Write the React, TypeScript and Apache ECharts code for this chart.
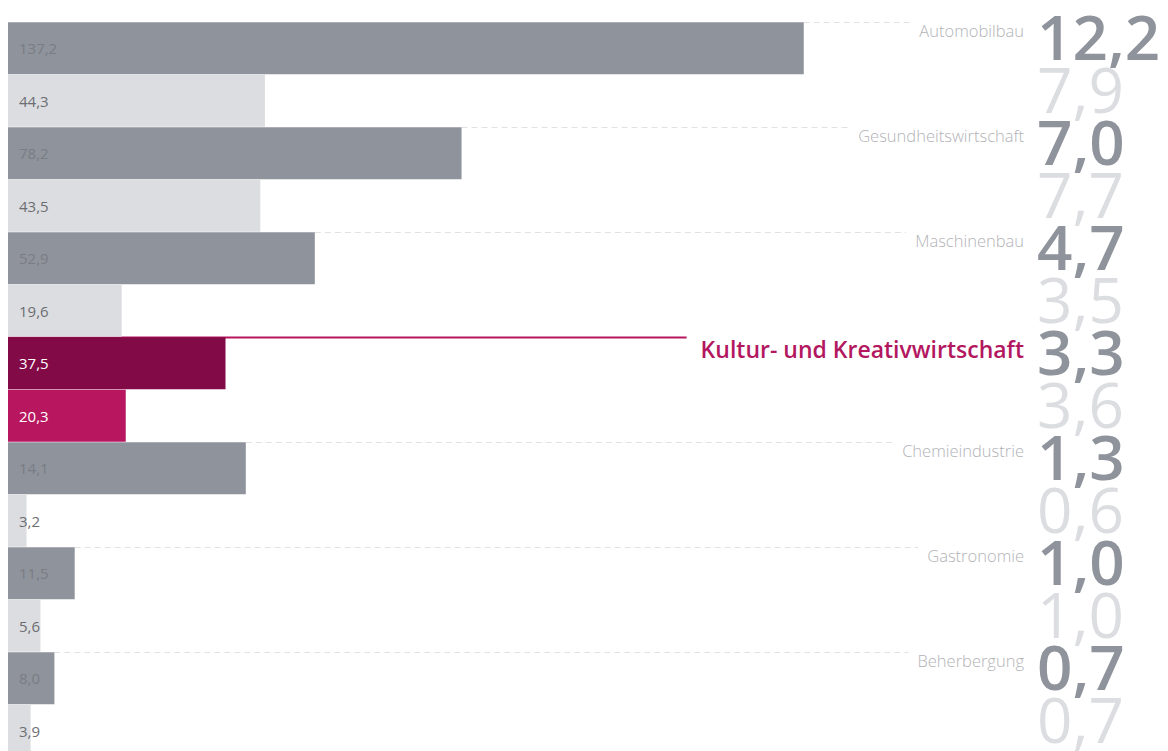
import React, { useEffect, useRef } from "react";
import * as echarts from "echarts";

const sectors = [
  "Automobilbau",
  "Gesundheitswirtschaft",
  "Maschinenbau",
  "Kultur- und Kreativwirtschaft",
  "Chemieindustrie",
  "Gastronomie",
  "Beherbergung",
];
const highlightSector = "Kultur- und Kreativwirtschaft";
// bar lengths (first and second measure of each sector)
const darkValues = [137.2, 78.2, 52.9, 37.5, 41.0, 11.5, 8.0];
const lightValues = [44.3, 43.5, 19.6, 20.3, 3.2, 5.6, 3.9];
// labels printed in the bars
const darkLabels = ["137,2", "78,2", "52,9", "37,5", "14,1", "11,5", "8,0"];
const lightLabels = ["44,3", "43,5", "19,6", "20,3", "3,2", "5,6", "3,9"];
// large figures at the right
const darkShares = ["12,2", "7,0", "4,7", "3,3", "1,3", "1,0", "0,7"];
const lightShares = ["7,9", "7,7", "3,5", "3,6", "0,6", "1,0", "0,7"];

const COLORS = {
  dark: "#8f939b",
  light: "#dcdde0",
  hiDark: "#820a46",
  hiLight: "#b8165f",
  darkLabel: "#7a7d84",
  lightLabel: "#6b6d72",
  catLabel: "#b2b3b7",
  hiText: "#b3175f",
  dash: "#e2e2e4",
};
const FONT = "'Open Sans', 'Noto Sans', sans-serif";

export default function App() {
  const ref = useRef<HTMLDivElement>(null);
  useEffect(() => {
    document.documentElement.style.overflow = "hidden";
    document.body.style.overflow = "hidden";
    const chart = echarts.init(ref.current!, null, { renderer: "svg" });

    const rowNames: string[] = [];
    const data: any[] = [];
    const labelTexts: string[] = [];
    sectors.forEach((s, i) => {
      const hi = s === highlightSector;
      rowNames.push(s + "#1");
      data.push({
        value: darkValues[i],
        itemStyle: { color: hi ? COLORS.hiDark : COLORS.dark },
        label: { color: hi ? "#ffffff" : COLORS.darkLabel },
      });
      labelTexts.push(darkLabels[i]);
      rowNames.push(s + "#2");
      data.push({
        value: lightValues[i],
        itemStyle: { color: hi ? COLORS.hiLight : COLORS.light },
        label: { color: hi ? "#ffffff" : COLORS.lightLabel },
      });
      labelTexts.push(lightLabels[i]);
    });

    chart.setOption({
      animation: false,
      grid: { left: 0, top: 14, width: 870, height: 735 },
      xAxis: {
        type: "value",
        min: 0,
        max: 150,
        show: false,
        splitLine: { show: false },
      },
      yAxis: {
        type: "category",
        data: rowNames,
        inverse: true,
        show: false,
      },
      series: [
        {
          type: "bar",
          data,
          barWidth: 52,
          z: 3,
          label: {
            show: true,
            position: "insideLeft",
            distance: 11,
            fontFamily: FONT,
            fontSize: 15,
            formatter: (p: any) => labelTexts[p.dataIndex],
          },
        },
      ],
    });

    const yc0 = chart.convertToPixel({ yAxisIndex: 0 }, rowNames[0]) as number;
    const yc1 = chart.convertToPixel({ yAxisIndex: 0 }, rowNames[1]) as number;
    const band = yc1 - yc0;
    const rowTop = (k: number) =>
      (chart.convertToPixel({ yAxisIndex: 0 }, rowNames[k]) as number) - band / 2;
    const x0 = chart.convertToPixel({ xAxisIndex: 0 }, 0) as number;
    const labelRight = 1016;
    const numLeft = 1029;

    const graphics: any[] = [];
    sectors.forEach((s, i) => {
      const hi = s === highlightSector;
      const top = rowTop(2 * i);
      const end = chart.convertToPixel({ xAxisIndex: 0 }, darkValues[i]) as number;
      graphics.push({
        type: "line",
        z: 1,
        shape: { x1: hi ? x0 : end, y1: top + 0.5, x2: labelRight, y2: top + 0.5 },
        style: hi
          ? { stroke: COLORS.hiLight, lineWidth: 2 }
          : { stroke: COLORS.dash, lineWidth: 1, lineDash: [6, 4] },
      });
      graphics.push({
        type: "text",
        z: 5,
        x: labelRight,
        y: top + (hi ? 12 : 8),
        style: {
          text: s,
          align: "right",
          verticalAlign: "middle",
          fontFamily: FONT,
          fontSize: hi ? 23 : 16.5,
          fontWeight: hi ? 600 : 300,
          fill: hi ? COLORS.hiText : COLORS.catLabel,
          backgroundColor: "#ffffff",
          padding: hi ? [5, 0, 2, 14] : [5, 0, 2, 9],
        },
      });
      graphics.push({
        type: "text",
        z: 6,
        x: numLeft,
        y: top + 14,
        style: {
          text: darkShares[i],
          align: "left",
          verticalAlign: "middle",
          fontFamily: FONT,
          fontSize: 62,
          fontWeight: 600,
          fill: COLORS.dark,
        },
      });
      graphics.push({
        type: "text",
        z: 7,
        x: numLeft,
        y: rowTop(2 * i + 1) + 14,
        style: {
          text: lightShares[i],
          align: "left",
          verticalAlign: "middle",
          fontFamily: FONT,
          fontSize: 62,
          fontWeight: 400,
          fill: COLORS.light,
        },
      });
    });
    chart.setOption({ graphic: graphics });

    return () => chart.dispose();
  }, []);
  return <div ref={ref} style={{ width: 1160, height: 760 }} />;
}
